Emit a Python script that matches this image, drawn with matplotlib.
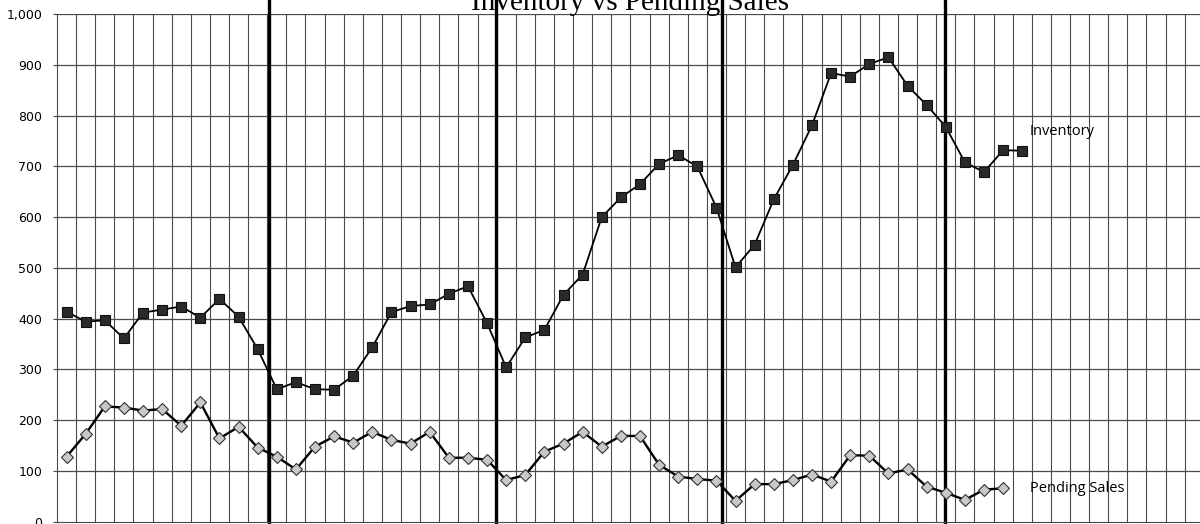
import numpy as np
import matplotlib
matplotlib.use("Agg")
import matplotlib.pyplot as plt

# valori (mensili)
inventory = [414, 394, 397, 361, 412, 418, 424, 402, 439, 404, 340,
             261, 275, 261, 260, 288, 344, 413, 425, 428, 449, 464,
             391, 304, 363, 378, 447, 487, 600, 639, 665, 705, 722,
             700, 619, 501, 546, 635, 703, 781, 884, 877, 902, 915,
             859, 821, 778, 708, 689, 732, 731]
pending = [128, 173, 227, 225, 219, 222, 189, 235, 164, 187, 146,
           128, 103, 148, 168, 156, 177, 161, 154, 177, 126, 126,
           122, 82, 92, 138, 154, 177, 148, 169, 169, 112, 89,
           84, 81, 41, 74, 74, 82, 93, 79, 131, 130, 95,
           103, 69, 57, 43, 63, 66]
# linee verticali spesse (separatori di anno, tracciate a mano)
year_marks = [10.6, 22.45, 34.3, 45.95]
n_cat = 60

x_inv = np.arange(len(inventory))
x_pen = np.arange(len(pending))

fig = plt.figure(figsize=(12, 5.24), dpi=100)
ax = fig.add_axes([57 / 1200, 1 - 521.7 / 524, 1 - 57 / 1200, (521.7 - 14.2) / 524])

ax.set_xlim(-0.5, 59.3)
ax.set_ylim(0, 1000)

# griglia
for k in range(n_cat):
    ax.axvline(k + 0.5, color="#4a4a4a", lw=0.8, zorder=1)
for v in range(100, 1001, 100):
    ax.axhline(v, color="#4a4a4a", lw=0.9, zorder=1)

for xm in year_marks:
    ax.axvline(xm, ymin=0, ymax=1.03, color="black", lw=2.4, zorder=2, clip_on=False)

ax.plot(x_inv, inventory, color="black", lw=1.3, marker="s", ms=6.5,
        mfc="#2a2a2a", mec="#111111", mew=0.8, zorder=4)
ax.plot(x_pen, pending, color="black", lw=1.7, marker="D", ms=6,
        mfc="#c8c8c8", mec="#333333", mew=0.8, zorder=4)

ax.text(50.4, 768, "Inventory", fontsize=10.5, family="Open Sans", va="center", ha="left")
ax.text(50.4, 66, "Pending Sales", fontsize=10.5, family="Open Sans", va="center", ha="left")

ax.set_yticks(range(0, 1001, 100))
ax.set_yticklabels([f"{v:,}" for v in range(0, 1001, 100)])
ax.tick_params(axis="y", length=3, pad=7.5, labelsize=9, color="#4a4a4a")
ax.set_xticks([])
for s in ["top", "right"]:
    ax.spines[s].set_visible(False)
ax.spines["left"].set_color("#4a4a4a")
ax.spines["bottom"].set_color("#4a4a4a")

fig.text(630 / 1200, 1 - 10 / 524, "Inventory vs Pending Sales",
         family="Liberation Serif", fontsize=21, ha="center", va="baseline")

fig.savefig("out.png", dpi=100)
